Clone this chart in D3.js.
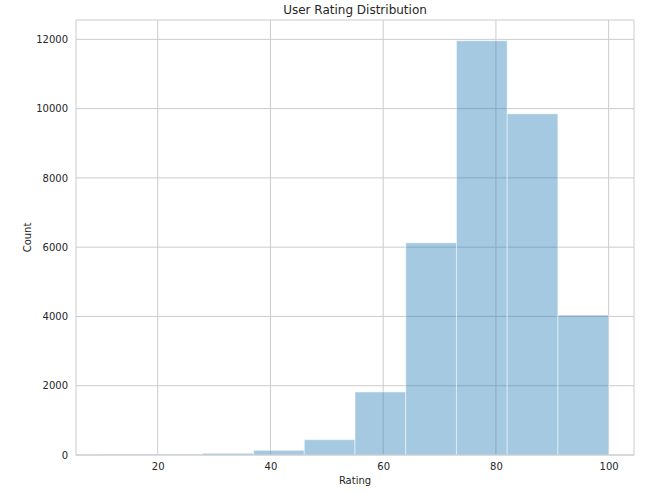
<!DOCTYPE html>
<html>
<head>
<meta charset="utf-8">
<script src="https://cdn.jsdelivr.net/npm/d3@7"></script>
<style>
  body { margin: 0; background: #fff; }
  text { font-family: "DejaVu Sans", sans-serif; fill: #262626; }
</style>
</head>
<body>
<div id="chart"></div>
<script>
// histogram bins (rating edges) and counts
const binEdges = [10, 19, 28, 37, 46, 55, 64, 73, 82, 91, 100];
const counts = [25, 20, 50, 135, 443, 1820, 6125, 11960, 9850, 4040];
const xTicks = [20, 40, 60, 80, 100];
const yTicks = [0, 2000, 4000, 6000, 8000, 10000, 12000];

const MARGIN = { TOP: 20, BOTTOM: 38, LEFT: 76, RIGHT: 26 };
const W = 660, H = 493;
const WIDTH = W - MARGIN.LEFT - MARGIN.RIGHT;
const HEIGHT = H - MARGIN.TOP - MARGIN.BOTTOM;

const bins = counts.map((c, i) => ({ x0: binEdges[i], x1: binEdges[i + 1], count: c }));

const svg = d3.select('#chart').append('svg')
   .attr('width', W)
   .attr('height', H);

const g = svg.append('g')
   .attr('transform', `translate(${MARGIN.LEFT},${MARGIN.TOP})`);

// matplotlib-style 5% margins
const xPad = (binEdges[binEdges.length - 1] - binEdges[0]) * 0.05;
const x = d3.scaleLinear()
   .domain([binEdges[0] - xPad, binEdges[binEdges.length - 1] + xPad])
   .range([0, WIDTH]);

const y = d3.scaleLinear()
   .domain([0, d3.max(counts) * 1.05])
   .range([HEIGHT, 0]);

// grid
g.append('g')
   .selectAll('line.vg')
   .data(xTicks)
   .enter().append('line')
   .attr('x1', d => x(d)).attr('x2', d => x(d))
   .attr('y1', 0).attr('y2', HEIGHT)
   .attr('stroke', '#cccccc').attr('stroke-width', 1);

g.append('g')
   .selectAll('line.hg')
   .data(yTicks)
   .enter().append('line')
   .attr('x1', 0).attr('x2', WIDTH)
   .attr('y1', d => y(d)).attr('y2', d => y(d))
   .attr('stroke', '#cccccc').attr('stroke-width', 1);

// bars
g.append('g')
   .selectAll('rect')
   .data(bins)
   .enter().append('rect')
   .attr('x', d => x(d.x0))
   .attr('y', d => y(d.count))
   .attr('width', d => x(d.x1) - x(d.x0))
   .attr('height', d => HEIGHT - y(d.count))
   .attr('fill', '#1f77b4')
   .attr('fill-opacity', 0.4)
   .attr('stroke', '#ffffff')
   .attr('stroke-opacity', 0.5)
   .attr('stroke-width', 1);

// spines
g.append('rect')
   .attr('x', 0).attr('y', 0)
   .attr('width', WIDTH).attr('height', HEIGHT)
   .attr('fill', 'none')
   .attr('stroke', '#cccccc')
   .attr('stroke-width', 1);

// axes
const xAxis = g.append('g')
   .attr('transform', `translate(0,${HEIGHT})`)
   .call(d3.axisBottom(x).tickValues(xTicks).tickSize(0).tickPadding(8));
xAxis.select('.domain').remove();
xAxis.selectAll('text').style('font-size', '10px').attr('fill', '#262626');

const yAxis = g.append('g')
   .call(d3.axisLeft(y).tickValues(yTicks).tickSize(0).tickPadding(8).tickFormat(d3.format('d')));
yAxis.select('.domain').remove();
yAxis.selectAll('text').style('font-size', '10px').attr('fill', '#262626');

// labels
svg.append('text')
   .attr('x', MARGIN.LEFT + WIDTH / 2)
   .attr('y', 484)
   .attr('text-anchor', 'middle')
   .style('font-size', '10px')
   .text('Rating');

svg.append('text')
   .attr('transform', `translate(31,${MARGIN.TOP + HEIGHT / 2}) rotate(-90)`)
   .attr('text-anchor', 'middle')
   .style('font-size', '10px')
   .text('Count');

svg.append('text')
   .attr('x', MARGIN.LEFT + WIDTH / 2)
   .attr('y', 14)
   .attr('text-anchor', 'middle')
   .style('font-size', '12px')
   .text('User Rating Distribution');
</script>
</body>
</html>
